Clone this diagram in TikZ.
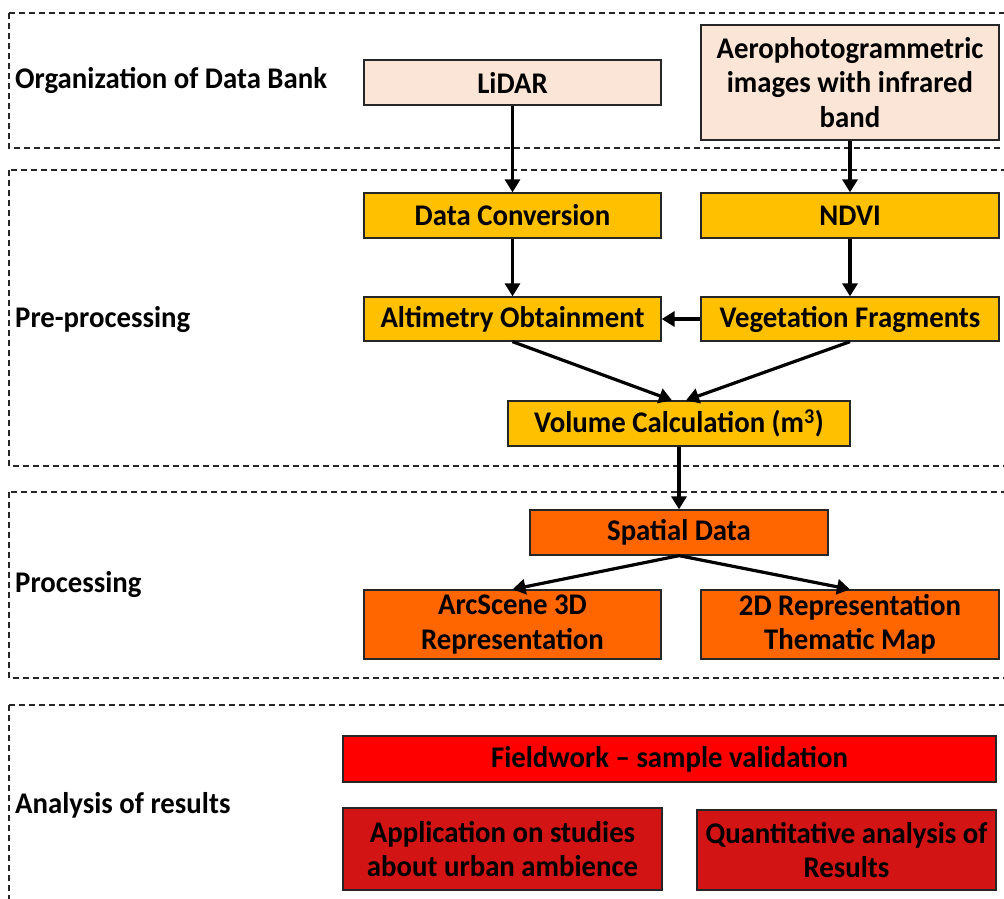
\documentclass[tikz,border=0pt]{standalone}
\usepackage{fontspec}
\setmainfont{Carlito}[FakeStretch=0.96]
\usetikzlibrary{arrows.meta}
\definecolor{peach}{HTML}{FBE5D6}
\definecolor{gold}{HTML}{FFC000}
\definecolor{orng}{HTML}{FF6600}
\definecolor{brightred}{HTML}{FF0000}
\definecolor{darkred}{HTML}{D21414}
\begin{document}
\begin{tikzpicture}[x=1pt,y=-1pt,
  box/.style={draw=black!85, line width=1.3pt, align=center, inner sep=0pt,
    font=\fontsize{30}{34.5}\selectfont\bfseries},
  lbl/.style={anchor=west, inner sep=0pt, font=\fontsize{30}{34}\selectfont\bfseries},
  region/.style={draw=black!85, line width=1.2pt, dash pattern=on 6pt off 4pt},
  arr/.style={line width=3.2pt, -{Triangle[length=13pt,width=15pt]}}
]
\useasboundingbox (0,0) rectangle (1004,898);
% regions
\draw[region] (9,13) rectangle (1012,148);
\draw[region] (9,170) rectangle (1012,466);
\draw[region] (9,492) rectangle (1012,678);
\draw[region] (9,705) rectangle (1012,910);
% labels
\node[lbl] (l1) at (15,80) {Organization of Data Bank};
\node[lbl] (l2) at (15,320) {Pre-processing};
\node[lbl] (l3) at (15,585) {Processing};
\node[lbl] (l4) at (15,805) {Analysis of results};
% boxes
\node[box, fill=peach, minimum width=297pt, minimum height=45pt] (lidar) at (512.5,82.5) {LiDAR};
\node[box, fill=peach, minimum width=298pt, minimum height=115pt] (aero) at (850,82.5) {Aerophotogrammetric\\images with infrared\\band};
\node[box, fill=gold, minimum width=297pt, minimum height=45pt] (conv) at (512.5,215.5) {Data Conversion};
\node[box, fill=gold, minimum width=298pt, minimum height=45pt] (ndvi) at (850,215.5) {NDVI};
\node[box, fill=gold, minimum width=297pt, minimum height=44pt] (alt) at (512.5,319) {Altimetry Obtainment};
\node[box, fill=gold, minimum width=298pt, minimum height=44pt] (veg) at (850,319) {Vegetation Fragments};
\node[box, fill=gold, minimum width=342pt, minimum height=45pt] (vol) at (679,423.5) {Volume Calculation (m\textsuperscript{3})};
\node[box, fill=orng, minimum width=298pt, minimum height=45pt] (sd) at (679,532.5) {Spatial Data};
\node[box, fill=orng, minimum width=297pt, minimum height=69pt] (arc) at (512.5,624.5) {ArcScene 3D\\Representation};
\node[box, fill=orng, minimum width=298pt, minimum height=69pt] (twod) at (850,624.5) {2D Representation\\Thematic Map};
\node[box, fill=brightred, minimum width=653pt, minimum height=46pt] (field) at (669.5,759) {Fieldwork -- sample validation};
\node[box, fill=darkred, minimum width=319pt, minimum height=82pt] (app) at (502.5,849) {Application on studies\\about urban ambience};
\node[box, fill=darkred, minimum width=299pt, minimum height=80pt] (quant) at (846.5,850) {Quantitative analysis of\\Results};
% arrows
\draw[arr] (lidar.south) -- (conv.north);
\draw[arr] (aero.south) -- (ndvi.north);
\draw[arr] (conv.south) -- (alt.north);
\draw[arr] (ndvi.south) -- (veg.north);
\draw[arr] (veg.west) -- (alt.east);
\draw[arr] (alt.south) -- ([xshift=-7pt]vol.north);
\draw[arr] (veg.south) -- ([xshift=7pt]vol.north);
\draw[arr] (vol.south) -- (sd.north);
\draw[arr] (sd.south) -- (arc.north);
\draw[arr] (sd.south) -- (twod.north);
\end{tikzpicture}
\end{document}
